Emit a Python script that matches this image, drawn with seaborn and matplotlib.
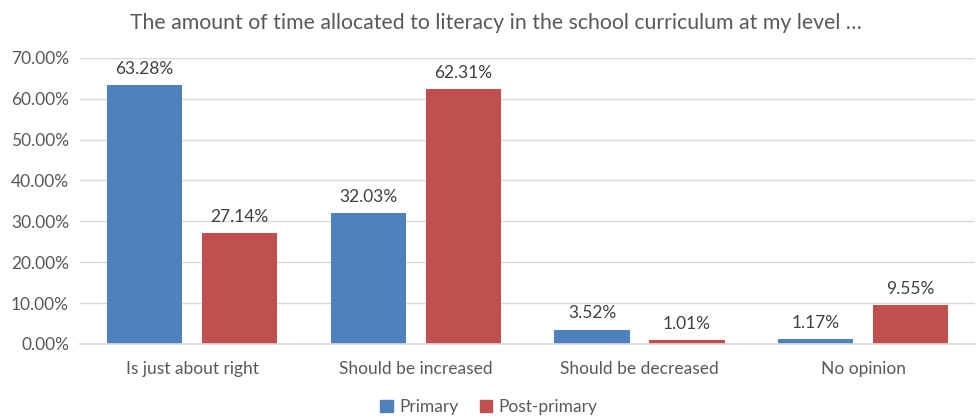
import matplotlib
matplotlib.use("Agg")
import matplotlib.pyplot as plt
import seaborn as sns
import pandas as pd
from matplotlib.patches import Patch

categories = ["Is just about right", "Should be increased", "Should be decreased", "No opinion"]
primary = [0.6328, 0.3203, 0.0352, 0.0117]
post_primary = [0.2714, 0.6231, 0.0101, 0.0955]
series_names = ["Primary", "Post-primary"]
colors = ["#4F81BD", "#C0504D"]

df = pd.DataFrame({
    "category": categories * 2,
    "value": primary + post_primary,
    "series": [series_names[0]] * 4 + [series_names[1]] * 4,
})

sns.set_theme(style="white")
plt.rcParams["font.family"] = ["Lato", "DejaVu Sans"]
txt = "#595959"
fs = 12.5

fig = plt.figure(figsize=(9.78, 4.19), dpi=100)
ax = fig.add_axes([0.082, 0.179, 0.915, 0.683])
sns.barplot(data=df, x="category", y="value", hue="series", palette=colors,
            width=0.85, gap=0.21, ax=ax, legend=False, saturation=1, linewidth=0)

ax.set_ylim(0, 0.70)
ax.set_yticks([i / 10 for i in range(8)])
ax.set_yticklabels([f"{i*10:.2f}%" for i in range(8)], color=txt, fontsize=fs)
ax.set_xticklabels(categories, color=txt, fontsize=fs)
ax.set_xlabel("")
ax.set_ylabel("")
ax.tick_params(axis="y", length=0, pad=8)
ax.tick_params(axis="x", length=0, pad=12)
ax.yaxis.grid(True, color="#D9D9D9", linewidth=1)
ax.set_axisbelow(True)
for s in ["top", "right", "left"]:
    ax.spines[s].set_visible(False)
ax.spines["bottom"].set_color("#D9D9D9")

for cont in ax.containers:
    ax.bar_label(cont, labels=[f"{v*100:.2f}%" for v in cont.datavalues],
                 padding=6, color="#404040", fontsize=fs)

fig.text(0.507, 0.945, "The amount of time allocated to literacy in the school curriculum at my level …",
         ha="center", va="center", fontsize=15.3, color=txt)

handles = [Patch(color=c, label=n) for c, n in zip(colors, series_names)]
fig.legend(handles=handles, loc="center", bbox_to_anchor=(0.5, 0.028), ncol=2, frameon=False,
           fontsize=fs, labelcolor=txt, handlelength=0.7, handleheight=0.7,
           handletextpad=0.4, columnspacing=1.2)

fig.savefig("out.png", dpi=100)
